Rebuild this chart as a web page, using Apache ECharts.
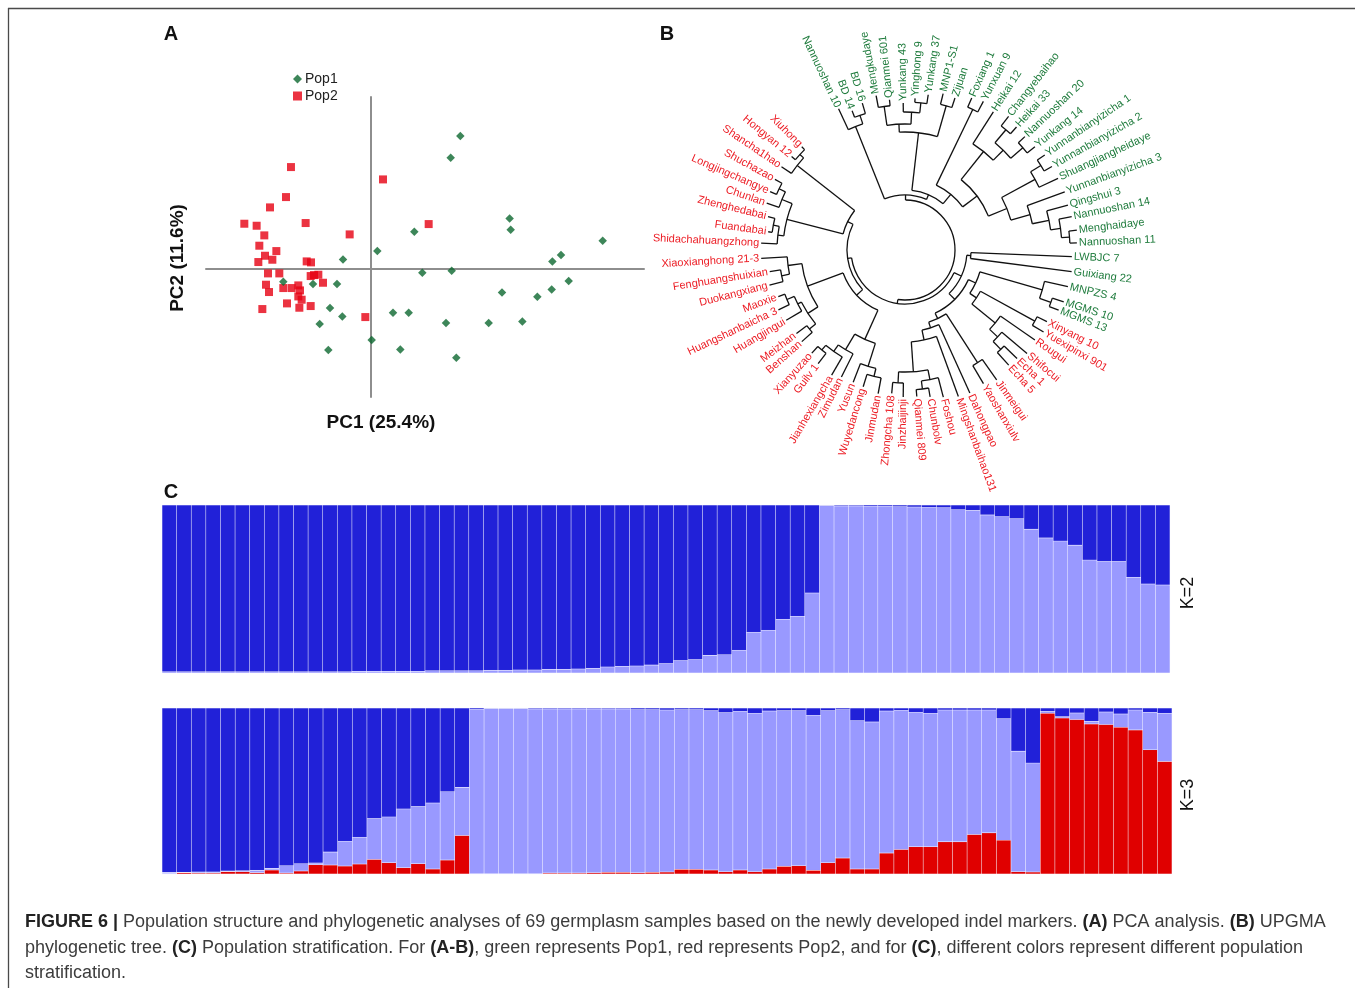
<!DOCTYPE html>
<html><head><meta charset="utf-8">
<script src="https://cdn.jsdelivr.net/npm/echarts@6/dist/echarts.min.js"></script>
<style>html,body{margin:0;padding:0;background:#fff}#c{width:1355px;height:988px}</style>
</head><body><div id="c"></div>
<script>
// ---------- Panel A: PCA ----------
const pop1Points = [[1.645,3.089],[1.469,2.583],[2.546,1.167],[2.565,0.903],[0.805,0.856],[4.245,0.646],[0.129,0.405],[-0.498,0.211],[3.484,0.312],[3.326,0.164],[0.951,-0.1],[1.487,-0.054],[3.624,-0.295],[3.314,-0.489],[2.406,-0.559],[3.052,-0.66],[-1.588,-0.31],[-1.046,-0.365],[-0.607,-0.365],[-0.735,-0.925],[-0.51,-1.119],[-0.924,-1.298],[0.416,-1.034],[0.702,-1.034],[1.384,-1.275],[2.163,-1.275],[2.778,-1.236],[0.026,-1.671],[-0.766,-1.905],[0.549,-1.889],[1.572,-2.084]];
const pop2Points = [[-1.448,2.365],[-1.539,1.665],[-1.831,1.424],[0.233,2.077],[-2.3,1.043],[-2.075,0.996],[-1.18,1.059],[1.067,1.035],[-1.935,0.771],[-0.376,0.794],[-2.026,0.53],[-1.715,0.405],[-1.922,0.296],[-1.788,0.203],[-2.044,0.149],[-1.161,0.164],[-1.082,0.141],[-1.868,-0.116],[-1.661,-0.116],[-1.088,-0.178],[-0.948,-0.147],[-1.027,-0.155],[-0.863,-0.334],[-1.904,-0.38],[-1.588,-0.458],[-1.435,-0.458],[-1.314,-0.396],[-1.849,-0.551],[-1.283,-0.513],[-1.314,-0.653],[-1.253,-0.73],[-1.521,-0.816],[-1.088,-0.878],[-1.971,-0.948],[-1.295,-0.917],[-0.09,-1.135]];
const pcaAxisNames = ['PC1 (25.4%)', 'PC2 (11.6%)'];

// ---------- Panel B: UPGMA tree ----------
const leafNames = ['Nannuoshan 10','BD 14','BD 16','Mengkudaye','Qianmei 601','Yunkang 43','Yinghong 9','Yunkang 37','MNP1-S1','Zijuan','Foxiang 1','Yunxuan 9','Heikai 12','Changyebaihao','Heikai 33','Nannuoshan 20','Yunkang 14','Yunnanbianyizicha 1','Yunnanbianyizicha 2','Shuangjiangheidaye','Yunnanbianyizicha 3','Qingshui 3','Nannuoshan 14','Menghaidaye','Nannuoshan 11','LWBJC 7','Guixiang 22','MNPZS 4','MGMS 10','MGMS 13','Xinyang 10','Yuexipinxi 901','Rougui','Shifocui','Echa 1','Echa 5','Jinmeigui','Yaoshanxiulv','Dahongpao','Mingshanbaihao131','Foshou','Chunbolv','Qianmei 809','Jinzhaijinji','Zhongcha 108','Jinmudan','Wuyedancong','Yusun','Zimudan','Jianhexiangcha','Guilv 1','Xianyuzao','Benshan','Meizhan','Huangjingui','Huangshanbaicha 3','Maoxie','Duokangxiang','Fenghuangshuixian','Xiaoxianghong 21-3','Shidachahuangzhong','Fuandabai','Zhenghedabai','Chunlan','Longjingchangye','Shuchazao','Shancha1hao','Hongyan 12','Xiuhong'];
const leafPop = [1,1,1,1,1,1,1,1,1,1,1,1,1,1,1,1,1,1,1,1,1,1,1,1,1,1,1,1,1,1,2,2,2,2,2,2,2,2,2,2,2,2,2,2,2,2,2,2,2,2,2,2,2,2,2,2,2,2,2,2,2,2,2,2,2,2,2,2,2];
const leafAngle = [-25.2,-20.8,-16.2,-10.6,-5.9,-0.7,3.8,8.5,13.7,18.2,23.7,27.8,32.6,37.8,42.2,46.6,51.5,55.8,60.4,64.9,70.0,74.6,78.7,83.4,87.6,92.3,97.4,102.7,108.1,111.4,116.8,120.6,124.7,130.3,134.1,138.0,144.8,149.6,155.6,160.0,165.4,170.3,175.4,180.7,185.3,190.6,197.0,201.4,206.6,210.4,217.4,222.1,228.4,232.4,239.4,244.7,249.8,255.5,260.9,266.7,272.7,277.6,283.7,288.7,293.4,298.5,304.0,309.5,315.0];
const leafRadius = [156,149,153,157,151,147,152,157,161,160,166,168,164,169,166,165,166,169,169,169,170,169,170,173,172,167,168,167,167,165,159,161,158,160,156,155,159,155,157,156,152,149,147,147,144,146,143,142,142,145,143,139,138,137,138,140,135,140,137,144,144,138,141,146,147,148,149,147,146];
// nested clusters: [node radius, child, child, ...]; numbers are leaf indices
const treeClusters = [50,
  [55,
    [133, [142, 1, 2], 0],
    [60,
      [118, [126, [145, 3, 4], [138, 5, [148, 6, 7]]], [150, 8, 9]],
      [72,
        [156, 10, 11],
        [90,
          [126, 12, [140, [157, 13, 14], [156, 15, 16]]],
          [110, [148, [160, 17, 18], 19], [130, 20, [147, 21, [157, 22, [165, 23, 24]]]]]
        ]
      ]
    ]
  ],
  [54,
    [62,
      [66, 25, 26],
      [70,
        [78, [143, 27, [155, 28, 29]], [86, [148, 30, 31], [116, 32, [127, 33, [138, 34, 35]]]]],
        [76, [134, 36, 37], [82, 38, [92, 39, [122, [132, 40, [140, 41, 42]], [133, 43, 44]]]]]
      ]
    ],
    [58,
      [66,
        [98, [122, [130, 45, 46], 47], [116, 48, [124, 49, [130, 50, 51]]]],
        [104, [116, [124, 52, 53], [120, 54, [128, 55, 56]]], [118, [126, 57, 58], 59]]
      ],
      [64,
        [122, [128, 60, [134, 61, 62]], [133, 63, [140, 64, 65]]],
        [137, 66, [142, 67, 68]]
      ]
    ]
  ]
];

// ---------- Panel C: structure ----------
const sampleIds = Array.from({length: 69}, (_, i) => 'S' + (i + 1));
const k2Cluster1 = [0.992,0.992,0.992,0.992,0.992,0.992,0.992,0.992,0.992,0.992,0.992,0.992,0.992,0.990,0.990,0.990,0.990,0.990,0.986,0.986,0.986,0.986,0.984,0.984,0.982,0.982,0.978,0.978,0.976,0.972,0.964,0.960,0.958,0.953,0.943,0.925,0.919,0.895,0.891,0.864,0.757,0.745,0.680,0.662,0.524,0.004,0.006,0.006,0.008,0.008,0.010,0.012,0.014,0.016,0.028,0.032,0.059,0.069,0.081,0.144,0.196,0.215,0.239,0.328,0.336,0.336,0.430,0.470,0.476];
const k2Cluster2 = [0.008,0.008,0.008,0.008,0.008,0.008,0.008,0.008,0.008,0.008,0.008,0.008,0.008,0.010,0.010,0.010,0.010,0.010,0.014,0.014,0.014,0.014,0.016,0.016,0.018,0.018,0.022,0.022,0.024,0.028,0.036,0.040,0.042,0.047,0.057,0.075,0.081,0.105,0.109,0.136,0.243,0.255,0.320,0.338,0.476,0.996,0.994,0.994,0.992,0.992,0.990,0.988,0.986,0.984,0.972,0.968,0.941,0.931,0.919,0.856,0.804,0.785,0.761,0.672,0.664,0.664,0.570,0.530,0.524];
const k3Cluster1 = [0.990,0.990,0.988,0.988,0.982,0.980,0.978,0.966,0.950,0.938,0.934,0.868,0.802,0.778,0.666,0.656,0.608,0.594,0.572,0.504,0.478,0.008,0.004,0.004,0.004,0.006,0.006,0.006,0.006,0.006,0.006,0.006,0.010,0.010,0.012,0.010,0.010,0.016,0.028,0.020,0.032,0.018,0.016,0.016,0.044,0.016,0.010,0.076,0.084,0.018,0.014,0.026,0.032,0.012,0.012,0.012,0.012,0.064,0.260,0.332,0.020,0.052,0.030,0.080,0.024,0.036,0.012,0.026,0.032];
const k3Cluster2 = [0.008,0.002,0.006,0.006,0.004,0.006,0.014,0.010,0.044,0.044,0.010,0.078,0.150,0.162,0.246,0.276,0.354,0.344,0.398,0.412,0.290,0.990,0.994,0.994,0.994,0.992,0.988,0.988,0.988,0.986,0.984,0.984,0.982,0.980,0.976,0.962,0.962,0.960,0.958,0.956,0.954,0.952,0.938,0.934,0.934,0.916,0.894,0.894,0.886,0.856,0.838,0.810,0.804,0.794,0.794,0.750,0.740,0.732,0.726,0.656,0.012,0.008,0.040,0.016,0.076,0.080,0.120,0.226,0.290];
const k3Cluster3 = [0.002,0.008,0.006,0.006,0.014,0.014,0.008,0.024,0.006,0.018,0.056,0.054,0.048,0.060,0.088,0.068,0.038,0.062,0.030,0.084,0.232,0.002,0.002,0.002,0.002,0.002,0.006,0.006,0.006,0.008,0.010,0.010,0.008,0.010,0.012,0.028,0.028,0.024,0.014,0.024,0.014,0.030,0.046,0.050,0.022,0.068,0.096,0.030,0.030,0.126,0.148,0.164,0.164,0.194,0.194,0.238,0.248,0.204,0.014,0.012,0.968,0.940,0.930,0.904,0.900,0.884,0.868,0.748,0.678];

// ---------- styling ----------
const FONT = '"Liberation Sans", Arial, Helvetica, sans-serif';
const GREEN_PT = '#0c6830', RED_PT = '#e60012';
const GREEN_TX = '#1e7b3c', RED_TX = '#ec1c24';
const DARK = '#2121d8', LIGHT = '#9999ff', RED = '#e00000';
const BAR_BORDER = 'rgba(190,190,255,0.08)';

// flatten cluster tree into drawable nodes: [radius, angle, parentRadius, arcStart, arcEnd, leafIndex]
const treeItems = [];
function walk(node, parentR) {
  if (typeof node === 'number') {
    const a = leafAngle[node];
    treeItems.push([leafRadius[node], a, parentR, a, a, node]);
    return a;
  }
  const r = node[0];
  const angs = node.slice(1).map(ch => walk(ch, r));
  const a1 = Math.min.apply(null, angs), a2 = Math.max.apply(null, angs);
  treeItems.push([r, (a1 + a2) / 2, parentR, a1, a2, -1]);
  return (a1 + a2) / 2;
}
walk(treeClusters, treeClusters[0]);

function renderTree(params, api) {
  const cs = params.coordSys;
  const cx = cs.cx, cy = cs.cy;
  const r = api.value(0), a = api.value(1), pr = api.value(2);
  const a1 = api.value(3), a2 = api.value(4), li = api.value(5);
  const p0 = api.coord([pr, a]), p1 = api.coord([r, a]);
  const kids = [];
  const ls = {stroke: '#111', lineWidth: 1.3, fill: 'none'};
  if (pr !== r) kids.push({type: 'line', shape: {x1: p0[0], y1: p0[1], x2: p1[0], y2: p1[1]}, style: ls});
  if (li < 0) {
    const s = api.coord([r, a1]), e = api.coord([r, a2]);
    kids.push({type: 'arc', shape: {cx: cx, cy: cy, r: Math.hypot(s[0] - cx, s[1] - cy),
      startAngle: Math.atan2(s[1] - cy, s[0] - cx), endAngle: Math.atan2(e[1] - cy, e[0] - cx), clockwise: true}, style: ls});
  } else {
    const th = Math.atan2(p1[1] - cy, p1[0] - cx);
    const out = a > -12 && a < 180;
    kids.push({type: 'text', x: p1[0] + 2 * Math.cos(th), y: p1[1] + 2 * Math.sin(th),
      rotation: out ? -th : Math.PI - th,
      style: {text: leafNames[li], fill: leafPop[li] === 1 ? GREEN_TX : RED_TX, font: '11px ' + FONT,
        align: out ? 'left' : 'right', verticalAlign: 'middle'}});
  }
  return {type: 'group', children: kids};
}

const chart = echarts.init(document.getElementById('c'), null, {renderer: 'canvas'});
const txt = (x, y, text, font, extra) => Object.assign({type: 'text', x: x, y: y, silent: true,
  style: {text: text, font: font, fill: '#111', align: 'center', verticalAlign: 'middle'}}, extra || {});
const capRich = {b: {font: 'bold 18px ' + FONT, fill: '#222'}};
const capStyle = (t) => ({text: t, font: '18px ' + FONT, fill: '#3c3c3c', align: 'left', verticalAlign: 'middle', rich: capRich});

chart.setOption({
  animation: false,
  backgroundColor: '#fff',
  legend: {left: 293, top: 72, orient: 'vertical', itemWidth: 9, itemHeight: 9, itemGap: 3, padding: 0,
    textStyle: {fontSize: 14, fontFamily: FONT, color: '#222', padding: [0, 0, 0, -2]},
    data: [{name: 'Pop1', icon: 'diamond'}, {name: 'Pop2', icon: 'rect'}]},
  grid: [
    {left: 206, top: 97, width: 438, height: 300},
    {left: 162, top: 505, width: 1008, height: 168},
    {left: 162, top: 708, width: 1010, height: 166}
  ],
  xAxis: [
    {gridIndex: 0, type: 'value', min: -3, max: 5, axisLine: {onZero: true, lineStyle: {color: '#8e8e8e', width: 2}},
      axisTick: {show: false}, axisLabel: {show: false}, splitLine: {show: false}},
    {gridIndex: 1, type: 'category', data: sampleIds, show: false},
    {gridIndex: 2, type: 'category', data: sampleIds, show: false}
  ],
  yAxis: [
    {gridIndex: 0, type: 'value', min: -3, max: 4, axisLine: {onZero: true, lineStyle: {color: '#8e8e8e', width: 2}},
      axisTick: {show: false}, axisLabel: {show: false}, splitLine: {show: false}},
    {gridIndex: 1, type: 'value', min: 0, max: 1, show: false},
    {gridIndex: 2, type: 'value', min: 0, max: 1, show: false}
  ],
  polar: {center: [905, 250], radius: 180},
  angleAxis: {type: 'value', min: -30, max: 330, startAngle: 120, clockwise: true, show: false},
  radiusAxis: {type: 'value', min: 0, max: 180, show: false},
  series: [
    {type: 'scatter', name: 'Pop2', xAxisIndex: 0, yAxisIndex: 0, data: pop2Points, symbol: 'rect', symbolSize: 8,
      itemStyle: {color: RED_PT}},
    {type: 'scatter', name: 'Pop1', xAxisIndex: 0, yAxisIndex: 0, data: pop1Points, symbol: 'diamond', symbolSize: 8.5,
      itemStyle: {color: GREEN_PT}},
    {type: 'custom', name: 'tree', coordinateSystem: 'polar', polarIndex: 0, data: treeItems,
      encode: {radius: 0, angle: 1}, renderItem: renderTree, silent: true, clip: false},
    {type: 'bar', name: 'K2 cluster 2', xAxisIndex: 1, yAxisIndex: 1, stack: 'k2', data: k2Cluster2, barCategoryGap: '0%',
      itemStyle: {color: LIGHT, borderColor: BAR_BORDER, borderWidth: 0.5}},
    {type: 'bar', name: 'K2 cluster 1', xAxisIndex: 1, yAxisIndex: 1, stack: 'k2', data: k2Cluster1, barCategoryGap: '0%',
      itemStyle: {color: DARK, borderColor: BAR_BORDER, borderWidth: 0.5}},
    {type: 'bar', name: 'K3 cluster 3', xAxisIndex: 2, yAxisIndex: 2, stack: 'k3', data: k3Cluster3, barCategoryGap: '0%',
      itemStyle: {color: RED, borderColor: BAR_BORDER, borderWidth: 0.5}},
    {type: 'bar', name: 'K3 cluster 2', xAxisIndex: 2, yAxisIndex: 2, stack: 'k3', data: k3Cluster2, barCategoryGap: '0%',
      itemStyle: {color: LIGHT, borderColor: BAR_BORDER, borderWidth: 0.5}},
    {type: 'bar', name: 'K3 cluster 1', xAxisIndex: 2, yAxisIndex: 2, stack: 'k3', data: k3Cluster1, barCategoryGap: '0%',
      itemStyle: {color: DARK, borderColor: BAR_BORDER, borderWidth: 0.5}}
  ],
  graphic: [
    {type: 'line', silent: true, shape: {x1: 8, y1: 8.5, x2: 1355, y2: 8.5}, style: {stroke: '#4a4a4a', lineWidth: 1.3}},
    {type: 'line', silent: true, shape: {x1: 8.5, y1: 8, x2: 8.5, y2: 988}, style: {stroke: '#4a4a4a', lineWidth: 1.3}},
    txt(171, 34, 'A', 'bold 20px ' + FONT),
    txt(667, 34, 'B', 'bold 20px ' + FONT),
    txt(171, 492, 'C', 'bold 20px ' + FONT),
    txt(381, 423, pcaAxisNames[0], 'bold 19px ' + FONT),
    txt(178, 258, pcaAxisNames[1], 'bold 19px ' + FONT, {rotation: Math.PI / 2}),
    txt(1188, 593, 'K=2', '18px ' + FONT, {rotation: Math.PI / 2}),
    txt(1188, 795, 'K=3', '18px ' + FONT, {rotation: Math.PI / 2}),
    {type: 'text', x: 25, y: 922, silent: true, style: capStyle('{b|FIGURE 6 |} Population structure and phylogenetic analyses of 69 germplasm samples based on the newly developed indel markers. {b|(A)} PCA analysis. {b|(B)} UPGMA')},
    {type: 'text', x: 25, y: 948, silent: true, style: capStyle('phylogenetic tree. {b|(C)} Population stratification. For {b|(A-B)}, green represents Pop1, red represents Pop2, and for {b|(C)}, different colors represent different population')},
    {type: 'text', x: 25, y: 973, silent: true, style: capStyle('stratification.')}
  ]
});
</script>
</body></html>
